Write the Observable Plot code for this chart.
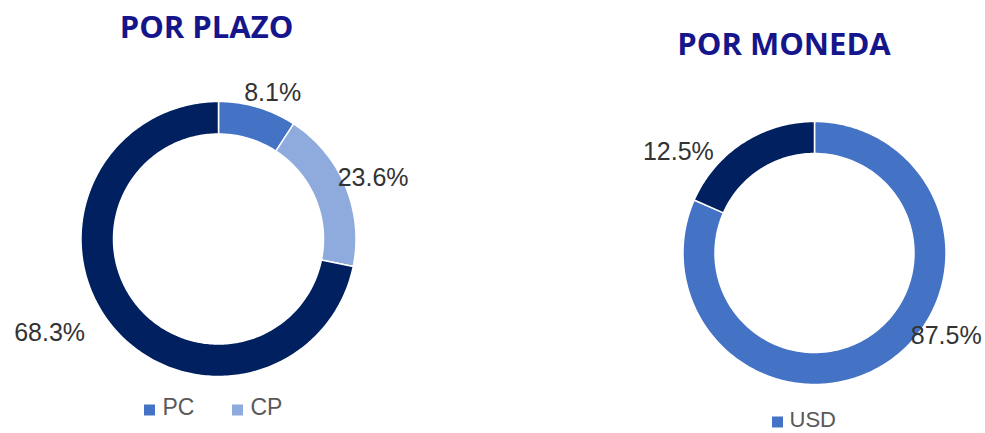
<!DOCTYPE html>
<html>
<head>
<meta charset="utf-8">
<script src="https://cdn.jsdelivr.net/npm/d3@7"></script>
<script src="https://cdn.jsdelivr.net/npm/@observablehq/plot@0.6"></script>
<style>
  html, body { margin: 0; padding: 0; background: #ffffff; overflow: hidden; }
  #chart svg { display: block; }
</style>
</head>
<body>
<div id="chart"></div>
<script>
// ---------------- DATA ----------------
const titulos = ["POR PLAZO", "POR MONEDA"];

// Por plazo
const plazoCategorias = ["PC", "CP", "LP"];
const plazoValores = [8.1, 23.6, 68.3];          // data-label values (%)
const plazoArco = [9.2, 19.0, 71.8];             // share of the ring as drawn (%)
const leyendaPlazo = ["PC", "CP"];

// Por moneda
const monedaCategorias = ["USD", "Otras"];
const monedaValores = [87.5, 12.5];              // data-label values (%)
const monedaArco = [81.6, 18.4];                 // share of the ring as drawn (%)
const leyendaMoneda = ["USD"];

// ---------------- LAYOUT / STYLE ----------------
const W = 985, H = 433;
const colorDomain = ["PC", "CP", "LP", "USD", "Otras"];
const colorRange  = ["#4472C4", "#8FAADC", "#002060", "#4472C4", "#002060"];
const LABEL_FONT = "Liberation Sans, Arial, sans-serif";
const TITLE_FONT = "Open Sans, Lato, sans-serif";

const donuts = [
  { key: "plazo", title: titulos[0], cats: plazoCategorias, vals: plazoValores, arc: plazoArco,
    cx: 218, cy: 238.5, r0: 105, r1: 137.5, labelR: 160,
    nudge: [[8.6, 7], [7, 1], [-45, -7]],
    tx: 206, ty: 28, legend: leyendaPlazo, lx: 149, ly: 409.5, lstep: 88, lfs: 23 },
  { key: "moneda", title: titulos[1], cats: monedaCategorias, vals: monedaValores, arc: monedaArco,
    cx: 814, cy: 252.5, r0: 99.5, r1: 131.5, labelR: 154,
    nudge: [[47.6, -46.4], [-52, 27.6]],
    tx: 783.5, ty: 45, legend: leyendaMoneda, lx: 777, ly: 421.5, lstep: 88, lfs: 22 }
];

// ---------------- BUILD GEOMETRY FROM DATA ----------------
const ringPts = [];
const labels = [];
const titles = [];
const legendItems = [];

for (const d of donuts) {
  const slices = d3.pie().sort(null).value((v) => v)(d.arc);
  slices.forEach((s, i) => {
    const cat = d.cats[i];
    const id = d.key + "-" + cat;
    const n = Math.max(2, Math.ceil((s.endAngle - s.startAngle) / (Math.PI / 180)));
    for (let k = 0; k <= n; k++) {
      const a = s.startAngle + (s.endAngle - s.startAngle) * k / n;
      ringPts.push({ id, cat, x: d.cx + d.r1 * Math.sin(a), y: d.cy - d.r1 * Math.cos(a) });
    }
    for (let k = n; k >= 0; k--) {
      const a = s.startAngle + (s.endAngle - s.startAngle) * k / n;
      ringPts.push({ id, cat, x: d.cx + d.r0 * Math.sin(a), y: d.cy - d.r0 * Math.cos(a) });
    }
    const mid = (s.startAngle + s.endAngle) / 2;
    labels.push({
      text: d.vals[i].toFixed(1) + "%",
      x: d.cx + d.labelR * Math.sin(mid) + d.nudge[i][0],
      y: d.cy - d.labelR * Math.cos(mid) + d.nudge[i][1]
    });
  });
  titles.push({ text: d.title, x: d.tx, y: d.ty });
  d.legend.forEach((name, j) => {
    legendItems.push({ cat: name, text: name, x: d.lx + j * d.lstep, y: d.ly, fs: d.lfs });
  });
}

// ---------------- PLOT ----------------
const chart = Plot.plot({
  width: W,
  height: H,
  margin: 0,
  style: { background: "#ffffff" },
  x: { domain: [0, W], range: [0, W], axis: null },
  y: { domain: [0, H], range: [0, H], axis: null },
  color: { domain: colorDomain, range: colorRange },
  marks: [
    Plot.line(ringPts, {
      x: "x", y: "y", z: "id", fill: "cat",
      stroke: "#ffffff", strokeWidth: 1.5, curve: "linear-closed"
    }),
    Plot.text(labels, {
      x: "x", y: "y", text: "text",
      fontSize: 25, fill: "#333333", fontFamily: LABEL_FONT
    }),
    Plot.text(titles, {
      x: "x", y: "y", text: "text",
      fontSize: 31, fontWeight: "bold", fill: "#16168C", fontFamily: TITLE_FONT
    }),
    Plot.dot(legendItems, {
      x: "x", y: "y", fill: "cat", symbol: "square", r: 6.2
    }),
    Plot.text(legendItems.filter((d) => d.fs === 23), {
      x: (d) => d.x + 13, y: (d) => d.y - 2, text: "text", textAnchor: "start",
      fontSize: 23, fill: "#595959", fontFamily: LABEL_FONT
    }),
    Plot.text(legendItems.filter((d) => d.fs === 22), {
      x: (d) => d.x + 12, y: (d) => d.y - 2, text: "text", textAnchor: "start",
      fontSize: 22, fill: "#595959", fontFamily: LABEL_FONT
    })
  ]
});

document.getElementById("chart").appendChild(chart);
</script>
</body>
</html>
